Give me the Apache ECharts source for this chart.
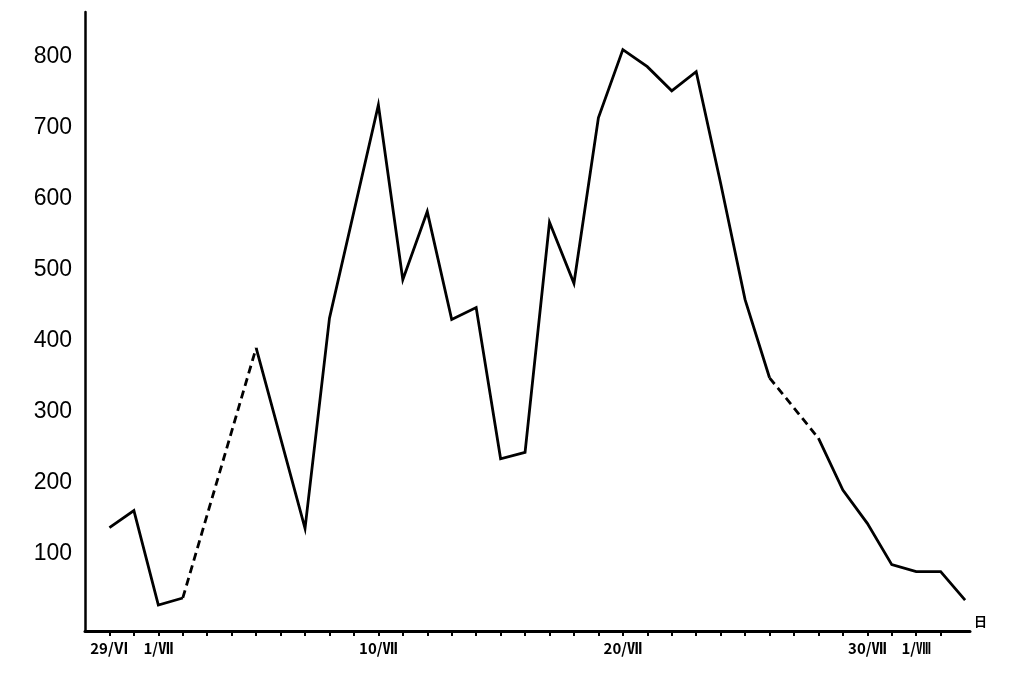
<!DOCTYPE html>
<html>
<head>
<meta charset="utf-8">
<script src="https://cdn.jsdelivr.net/npm/echarts@6/dist/echarts.min.js"></script>
<style>html,body{margin:0;padding:0;background:#fff}#c{width:1018px;height:678px}</style>
</head>
<body>
<div id="c"></div>
<script>
// Day index (0 = 29/VI) and value read at each vertex of the line
const days   = [0, 1, 2, 3, 6, 8, 9, 11, 12, 13, 14, 15, 16, 17, 18, 19, 20, 21, 22, 23, 24, 25, 26, 27, 29, 30, 31, 32, 33, 34, 35];
const counts = [137, 161, 28, 38, 390, 136, 432, 732, 486, 582, 430, 447, 234, 243, 567, 481, 714, 810, 786, 752, 779, 622, 458, 348, 263, 190, 143, 85, 75, 75, 35];
// spans (start day, end day) drawn as dashed line (missing observations)
const dashedSpans = [[3, 6], [27, 29]];
// x-axis ticks and labels
const tickDays = [0,1,2,3,4,5,6,7,8,9,10,11,12,13,14,15,16,17,18,19,20,21,22,23,24,25,26,27,28,29,30,31,32,33,34];
const labelDays = [0, 2, 11, 21, 31, 33];
const labelTexts = ['29/Ⅵ', '1/Ⅶ', '10/Ⅶ', '20/Ⅶ', '30/Ⅶ', '1/Ⅷ'];
const yLabels = [100, 200, 300, 400, 500, 600, 700, 800];

const isDashed = (a, b) => dashedSpans.some(s => s[0] === a && s[1] === b);
const segments = [];
let cur = [[days[0], counts[0]]];
for (let i = 1; i < days.length; i++) {
  if (isDashed(days[i - 1], days[i])) {
    segments.push({ dashed: false, data: cur });
    segments.push({ dashed: true, data: [[days[i - 1], counts[i - 1]], [days[i], counts[i]]] });
    cur = [[days[i], counts[i]]];
  } else {
    cur.push([days[i], counts[i]]);
  }
}
segments.push({ dashed: false, data: cur });

const series = segments.map(s => ({
  type: 'line',
  data: s.data,
  symbol: 'none',
  silent: true,
  lineStyle: { color: '#000', width: 2.8, type: s.dashed ? [8, 5] : 'solid', cap: 'butt', join: 'miter' }
}));

const chart = echarts.init(document.getElementById('c'), null, { renderer: 'canvas' });
chart.setOption({
  animation: false,
  backgroundColor: '#fff',
  grid: { left: 85, right: 48, top: 12, bottom: 47, containLabel: false },
  xAxis: {
    type: 'value',
    min: -1,
    max: 35.2,
    name: '日',
    nameLocation: 'end',
    nameGap: 4,
    nameTextStyle: { color: '#000', fontSize: 13, fontWeight: 'bold', fontFamily: 'Noto Sans CJK JP', verticalAlign: 'bottom', padding: [0, 0, 3, 0] },
    axisLine: { onZero: false, lineStyle: { color: '#000', width: 3 } },
    axisTick: { show: true, inside: false, length: 5, lineStyle: { color: '#000', width: 2 }, customValues: tickDays },
    axisLabel: {
      color: '#000', fontSize: 15, fontWeight: 'bold', fontFamily: 'Noto Sans CJK JP', margin: 10,
      customValues: labelDays,
      formatter: v => { const i = labelDays.indexOf(Math.round(v)); return i >= 0 ? labelTexts[i] : ''; }
    },
    splitLine: { show: false }
  },
  yAxis: {
    type: 'value',
    min: -8.5,
    max: 863,
    axisLine: { show: true, onZero: false, lineStyle: { color: '#000', width: 2.5 } },
    axisTick: { show: false },
    axisLabel: { color: '#000', fontSize: 23, fontFamily: 'Liberation Sans', margin: 13, customValues: yLabels },
    splitLine: { show: false }
  },
  series: series
});
</script>
</body>
</html>
